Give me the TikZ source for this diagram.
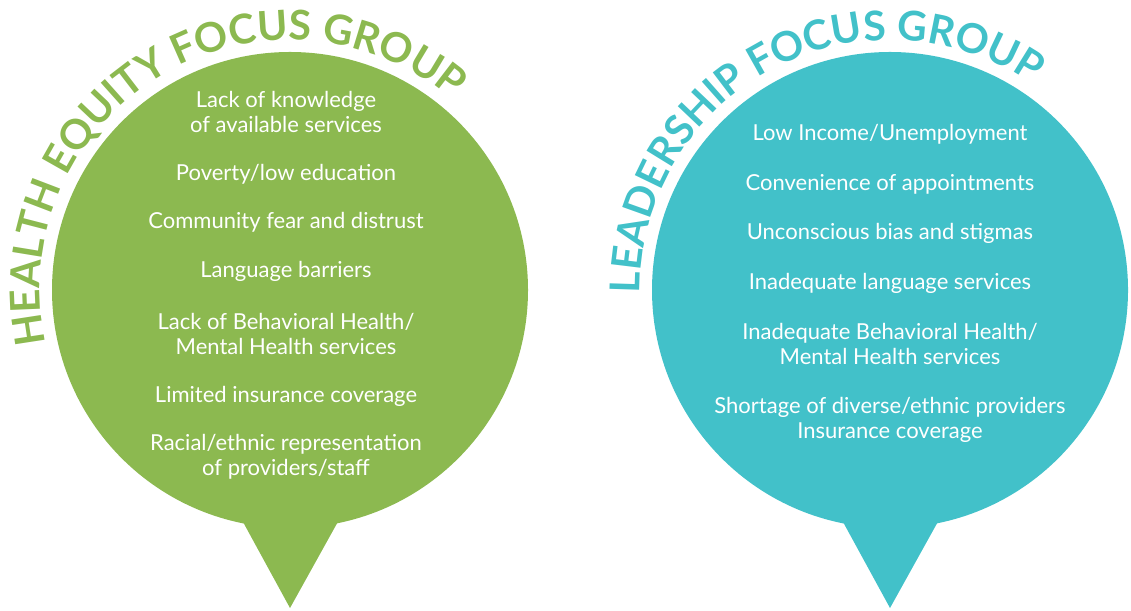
\documentclass[tikz,border=0pt]{standalone}
\usepackage{fontspec}
\setmainfont{Lato}
\usetikzlibrary{decorations.text}
\definecolor{heg}{RGB}{140,185,80}
\definecolor{lfg}{RGB}{66,193,201}
\newcommand{\titlefnt}{\fontsize{41}{41}\selectfont\bfseries}
\begin{document}
\begin{tikzpicture}[x=1pt,y=1pt,
 bubble/.style={circle, minimum size=476pt, inner sep=0pt, fill=#1},
 item/.style={text=white, font=\fontsize{22}{25}\selectfont, align=center, inner sep=0pt},
]
\useasboundingbox (0,0) rectangle (1131,610);
% green bubble
\node[bubble=heg] (hc) at (290,320) {};
\coordinate (ht) at (290,2);
\coordinate (hl) at (231,110);
\coordinate (hr) at (350,110);
\fill[heg] (hl) -- (ht) -- (hr) -- cycle;
\path[decorate, decoration={text along path, text align=center,
  text={|\titlefnt\color{heg}|HEALTH EQUITY FOCUS GROUP}}]
  (hc.center) ++(211:250) arc[start angle=211, end angle=31, radius=250];
\node[item] (h1) at (286,498.5) {Lack of knowledge\\of available services};
\node[item] (h2) at (286,436) {Poverty/low education};
\node[item] (h3) at (286,388) {Community fear and distrust};
\node[item] (h4) at (286,339) {Language barriers};
\node[item] (h5) at (286,276.5) {Lack of Behavioral Health/\\Mental Health services};
\node[item] (h6) at (286,214) {Limited insurance coverage};
\node[item] (h7) at (286,153) {Racial/ethnic representation\\of providers/staff};
% teal bubble
\node[bubble=lfg] (lc) at (890,320) {};
\coordinate (lt) at (890,2);
\coordinate (ll) at (831,110);
\coordinate (lr) at (950,110);
\fill[lfg] (ll) -- (lt) -- (lr) -- cycle;
\path[decorate, decoration={text along path, text align=center,
  text={|\titlefnt\color{lfg}|LEADERSHIP FOCUS GROUP}}]
  (lc.center) ++(208:250) arc[start angle=208, end angle=28, radius=250];
\node[item] (l1) at (890,476) {Low Income/Unemployment};
\node[item] (l2) at (890,426) {Convenience of appointments};
\node[item] (l3) at (890,377) {Unconscious bias and stigmas};
\node[item] (l4) at (890,327) {Inadequate language services};
\node[item] (l5) at (890,266) {Inadequate Behavioral Health/\\Mental Health services};
\node[item] (l6) at (890,190.5) {Shortage of diverse/ethnic providers\\Insurance coverage};
\end{tikzpicture}
\end{document}
